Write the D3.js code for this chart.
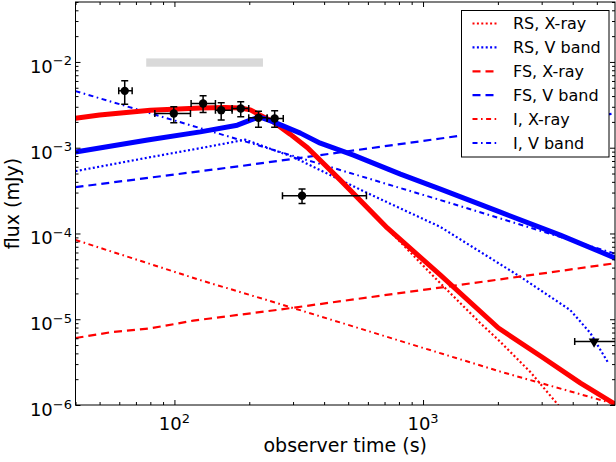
<!DOCTYPE html>
<html><head><meta charset="utf-8">
<script src="https://cdn.jsdelivr.net/npm/d3@7/dist/d3.min.js"></script>
<style>body{margin:0;background:#fff}svg{display:block;font-family:"DejaVu Sans",sans-serif}</style>
</head><body><svg id="c" width="616" height="462"></svg>
<script>
// ---------- data ----------
const totX_t = [40, 50, 80, 127, 160, 184, 202, 218, 250, 292, 343, 465, 718, 1175, 2010, 3050, 4300, 6000];
const totX_f = [2.21e-3, 2.40e-3, 2.74e-3, 2.90e-3, 2.94e-3, 2.90e-3, 2.76e-3, 2.45e-3, 2.0e-3, 1.44e-3, 1.0e-3, 4.19e-4, 1.16e-4, 3.27e-5, 7.9e-6, 3.53e-6, 1.80e-6, 1.0e-6];
const totV_t = [40, 78, 127, 179, 202, 220, 250, 321, 386, 525, 811, 1175, 2046, 3565, 6000];
const totV_f = [8.9e-4, 1.23e-3, 1.53e-3, 1.83e-3, 2.10e-3, 2.28e-3, 2.00e-3, 1.48e-3, 1.13e-3, 8.2e-4, 4.92e-4, 3.29e-4, 1.77e-4, 9.57e-5, 5.1e-5];
const rsX_t = [40, 50, 80, 127, 160, 184, 202, 218, 250, 292, 343, 465, 718, 1140, 1698, 2010, 2700, 3467, 3800];
const rsX_f = [2.2e-3, 2.39e-3, 2.73e-3, 2.89e-3, 2.93e-3, 2.89e-3, 2.75e-3, 2.44e-3, 1.99e-3, 1.43e-3, 0.99e-3, 4.15e-4, 1.14e-4, 2.86e-5, 9.04e-6, 5.73e-6, 2.43e-6, 1.03e-6, 7e-7];
const rsV_t = [40, 80, 127, 193, 222, 301, 597, 1175, 2460, 3908, 4710, 5560];
const rsV_f = [5.33e-4, 7.76e-4, 9.88e-4, 1.24e-3, 1.07e-3, 7.76e-4, 2.96e-4, 1.19e-4, 3.13e-5, 1.28e-5, 6.9e-6, 3.09e-6];
const fsX_t = [40, 55, 80, 119, 267, 2046, 6000];
const fsX_f = [6.04e-6, 7.03e-6, 7.83e-6, 9.62e-6, 1.30e-5, 2.92e-5, 4.52e-5];
const fsV_t = [40, 184, 1175, 6000];
const fsV_f = [3.47e-4, 6.1e-4, 1.28e-3, 2.53e-3];
const iX_t = [40, 127, 267, 2046, 5821, 6500];
const iX_f = [8.4e-5, 2.86e-5, 1.50e-5, 2.45e-6, 1.04e-6, 9.0e-7];
const iV_t = [40, 184, 1175, 6000];
const iV_f = [4.57e-3, 1.23e-3, 2.45e-4, 5.75e-5];

const obsT   = [63.1, 99.4, 130.4, 154.2, 184.8, 217.8, 253, 326];
const obsTlo = [59.7, 83.4, 116.7, 146.2, 170.6, 199, 236, 272];
const obsThi = [67.6, 116, 146.2, 170.6, 199, 236, 274, 592];
const obsF   = [4.60e-3, 2.51e-3, 3.28e-3, 2.74e-3, 2.87e-3, 2.23e-3, 2.19e-3, 2.75e-4];
const obsFlo = [3.22e-3, 1.95e-3, 2.58e-3, 2.10e-3, 2.29e-3, 1.73e-3, 1.73e-3, 2.24e-4];
const obsFhi = [6.03e-3, 3.00e-3, 4.03e-3, 3.34e-3, 3.43e-3, 2.67e-3, 2.69e-3, 3.29e-4];
const ulT = [4875], ulTlo = [4074], ulThi = [8000], ulF = [5.5e-6];

const bandT = [77, 227];
const bandF = [8.8e-3, 1.1e-2];

const xMajorExp = [2, 3];
const yMajorExp = [-6, -5, -4, -3, -2];
const legendLabels = ["RS, X-ray", "RS, V band", "FS, X-ray", "FS, V band", "I, X-ray", "I, V band"];
const xTitle = "observer time (s)";
const yTitle = "flux (mJy)";

// ---------- layout ----------
const L = 75.5, R = 616.5, T = 2, B = 405;
const svg = d3.select("#c");
const x = d3.scaleLog().domain([40, 6000]).range([L, R]);
const y = d3.scaleLog().domain([1e-6, 0.05]).range([B, T]);

svg.append("rect").attr("width", 616).attr("height", 462).attr("fill", "#fff");
svg.append("clipPath").attr("id", "clip").append("rect")
  .attr("x", L).attr("y", T).attr("width", 615 - L).attr("height", B - T);
const plot = svg.append("g").attr("clip-path", "url(#clip)");

// band
plot.append("rect").attr("x", x(bandT[0])).attr("width", x(bandT[1]) - x(bandT[0]))
  .attr("y", y(bandF[1])).attr("height", y(bandF[0]) - y(bandF[1])).attr("fill", "#d9d9d9");

const RED = "#ff0000", BLUE = "#0000ff";
const DOT = "2,2.4", DASH = "8,5", DASHDOT = "5,3.5,1.6,3.5";
const series = [
  {t: rsX_t, f: rsX_f, c: RED, d: DOT, w: 2.2},
  {t: rsV_t, f: rsV_f, c: BLUE, d: DOT, w: 2.2},
  {t: fsX_t, f: fsX_f, c: RED, d: DASH, w: 2.2},
  {t: fsV_t, f: fsV_f, c: BLUE, d: DASH, w: 2.2},
  {t: iX_t, f: iX_f, c: RED, d: DASHDOT, w: 2},
  {t: iV_t, f: iV_f, c: BLUE, d: DASHDOT, w: 2},
];
const totals = [
  {t: totX_t, f: totX_f, c: RED, d: null, w: 5},
  {t: totV_t, f: totV_f, c: BLUE, d: null, w: 5},
];
const line = d3.line().x(p => x(p[0])).y(p => y(p[1]));
function drawSeries(s) {
  plot.append("path").attr("d", line(s.t.map((t, i) => [t, s.f[i]])))
    .attr("fill", "none").attr("stroke", s.c).attr("stroke-width", s.w)
    .attr("stroke-dasharray", s.d).attr("stroke-linejoin", "round");
}
series.forEach(drawSeries);
totals.forEach(drawSeries);

// error bars
const eb = plot.append("g").attr("stroke", "#000").attr("stroke-width", 1.5);
const cap = 3.5;
obsT.forEach((t, i) => {
  const cx = x(t), cy = y(obsF[i]);
  const x0 = x(obsTlo[i]), x1 = x(obsThi[i]), y0 = y(obsFlo[i]), y1 = y(obsFhi[i]);
  eb.append("line").attr("x1", x0).attr("x2", x1).attr("y1", cy).attr("y2", cy);
  eb.append("line").attr("x1", cx).attr("x2", cx).attr("y1", y0).attr("y2", y1);
  eb.append("line").attr("x1", x0).attr("x2", x0).attr("y1", cy - cap).attr("y2", cy + cap);
  eb.append("line").attr("x1", x1).attr("x2", x1).attr("y1", cy - cap).attr("y2", cy + cap);
  eb.append("line").attr("x1", cx - cap).attr("x2", cx + cap).attr("y1", y0).attr("y2", y0);
  eb.append("line").attr("x1", cx - cap).attr("x2", cx + cap).attr("y1", y1).attr("y2", y1);
  plot.append("circle").attr("cx", cx).attr("cy", cy).attr("r", 4.2).attr("fill", "#000");
});
ulT.forEach((t, i) => {
  const cx = x(t), cy = y(ulF[i]);
  const x0 = x(ulTlo[i]), x1 = x(ulThi[i]);
  eb.append("line").attr("x1", x0).attr("x2", x1).attr("y1", cy).attr("y2", cy);
  eb.append("line").attr("x1", x0).attr("x2", x0).attr("y1", cy - cap).attr("y2", cy + cap);
  plot.append("path").attr("d", d3.symbol(d3.symbolTriangle, 50)())
    .attr("transform", `translate(${cx},${cy}) rotate(180)`).attr("fill", "#000");
});

// axes
function minors(lo, hi) {
  const out = [];
  for (let e = Math.floor(Math.log10(lo)); e <= Math.ceil(Math.log10(hi)); e++)
    for (let k = 2; k <= 9; k++) { const v = k * Math.pow(10, e); if (v >= lo && v <= hi) out.push(v); }
  return out;
}
const xMaj = xMajorExp.map(e => Math.pow(10, e));
const yMaj = yMajorExp.map(e => Math.pow(10, e));
const xMin = minors(40, 6000), yMin = minors(1e-6, 0.05);
function ax(gen, scale, vals, size, tr) {
  const g = svg.append("g").attr("transform", tr)
    .call(gen(scale).tickValues(vals).tickSizeInner(-size).tickSizeOuter(0).tickFormat(""));
  g.select(".domain").remove();
  g.selectAll("line").attr("stroke", "#000").attr("stroke-width", 1);
}
ax(d3.axisBottom, x, xMaj, 5, `translate(0,${B})`);
ax(d3.axisBottom, x, xMin, 3, `translate(0,${B})`);
ax(d3.axisTop, x, xMaj, 5, `translate(0,${T})`);
ax(d3.axisTop, x, xMin, 3, `translate(0,${T})`);
ax(d3.axisLeft, y, yMaj, 5, `translate(${L},0)`);
ax(d3.axisLeft, y, yMin, 3, `translate(${L},0)`);
ax(d3.axisRight, y, yMaj, 5, `translate(615,0)`);
ax(d3.axisRight, y, yMin, 3, `translate(615,0)`);

svg.append("rect").attr("x", L).attr("y", T).attr("width", 615 - L).attr("height", B - T)
  .attr("fill", "none").attr("stroke", "#000").attr("stroke-width", 1);

// tick labels
xMajorExp.forEach(e => {
  const t = svg.append("text").attr("x", x(Math.pow(10, e))).attr("y", 430)
    .attr("text-anchor", "middle").attr("font-size", 18).attr("fill", "#000");
  t.append("tspan").text("10");
  t.append("tspan").attr("font-size", 13).attr("dy", -7.5).text(String(e));
});
yMajorExp.forEach(e => {
  const t = svg.append("text").attr("x", 72).attr("y", y(Math.pow(10, e)) + 11)
    .attr("text-anchor", "end").attr("font-size", 18).attr("fill", "#000");
  t.append("tspan").text("10");
  t.append("tspan").attr("font-size", 13).attr("dy", -7.5).text("\u2212" + Math.abs(e));
});

// titles
svg.append("text").attr("x", (L + 615) / 2).attr("y", 452).attr("text-anchor", "middle")
  .attr("font-size", 19).text(xTitle);
svg.append("text").attr("transform", `translate(19,${(T + B) / 2}) rotate(-90)`)
  .attr("text-anchor", "middle").attr("font-size", 19).text(yTitle);

// legend
const lg = svg.append("g");
lg.append("rect").attr("x", 461.5).attr("y", 10.5).attr("width", 147.5).attr("height", 146.5)
  .attr("fill", "#fff").attr("stroke", "#000").attr("stroke-width", 1);
legendLabels.forEach((lab, i) => {
  const s = series[i];
  const yy = 23.5 + i * 23.9;
  lg.append("line").attr("x1", 472.5).attr("x2", 496.5).attr("y1", yy).attr("y2", yy)
    .attr("stroke", s.c).attr("stroke-width", s.w).attr("stroke-dasharray", s.d);
  lg.append("text").attr("x", 513).attr("y", yy).attr("dy", "0.36em")
    .attr("font-size", 16).text(lab);
});
</script>
</body></html>
